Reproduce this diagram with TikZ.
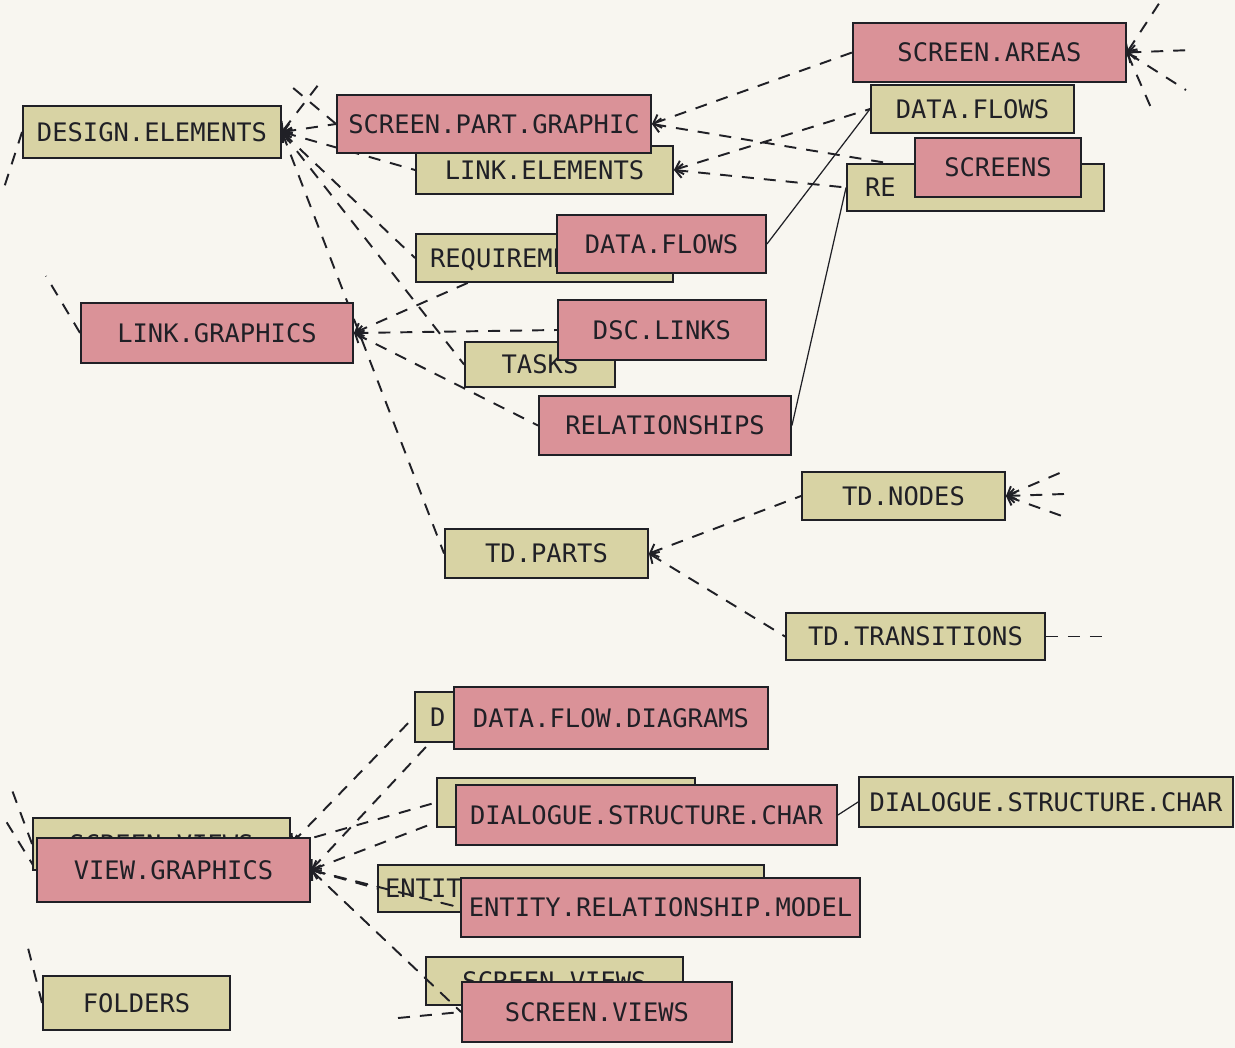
\documentclass[tikz,border=0pt]{standalone}
\usepackage{fontspec}
\usetikzlibrary{arrows.meta}
\newfontfamily\plotfont{DejaVu Sans Mono}
\definecolor{pinkc}{RGB}{218,146,152}
\definecolor{khakic}{RGB}{216,211,164}
\definecolor{inkc}{RGB}{32,32,38}
\definecolor{pagec}{RGB}{248,246,240}
\pgfdeclarelayer{back}
\pgfdeclarelayer{front}
\pgfsetlayers{back,main,front}
\tikzset{
  card/.style={draw=inkc, line width=1.1pt, inner sep=0pt, text=inkc,
    font=\plotfont\fontsize{14.5}{16}\selectfont, text height=10.6pt, text depth=0pt},
  pinkcard/.style={card, fill=pinkc},
  khakicard/.style={card, fill=khakic},
  link/.style={draw=inkc, line width=1.1pt, dash pattern=on 0.24cm off 0.2cm},
  plain link/.style={draw=inkc, line width=0.7pt},
}
\begin{document}
\begin{tikzpicture}[x=0.02cm, y=-0.02cm, line cap=round, >={Straight Barb[length=4pt,width=8pt]}]
\begin{pgfonlayer}{back}
\fill[pagec] (0,0) rectangle (1235,1048);
\end{pgfonlayer}
\useasboundingbox (0,0) rectangle (1235,1048);
% upper left group
\node[khakicard, minimum width=5.16cm, minimum height=1.04cm] (de) at (152,132) {DESIGN.ELEMENTS};
\node[pinkcard, minimum width=5.44cm, minimum height=1.2cm] (lg) at (217,333) {LINK.GRAPHICS};
\node[khakicard, minimum width=5.14cm, minimum height=0.96cm] (le) at (544.5,170) {LINK.ELEMENTS};
\node[pinkcard, minimum width=6.28cm, minimum height=1.16cm] (spg) at (494,124) {SCREEN.PART.GRAPHIC};
\node[khakicard, align=left, text width=4.58cm, inner xsep=0.28cm, minimum height=0.96cm] (req) at (544.5,258) {REQUIREMENTS};
\node[pinkcard, minimum width=4.18cm, minimum height=1.16cm] (dfp) at (661.5,244) {DATA.FLOWS};
\node[khakicard, minimum width=3cm, minimum height=0.9cm] (tk) at (540,364.5) {TASKS};
\node[pinkcard, minimum width=4.16cm, minimum height=1.2cm] (dsc) at (662,330) {DSC.LINKS};
\node[pinkcard, minimum width=5.04cm, minimum height=1.18cm] (rel) at (665,425.5) {RELATIONSHIPS};
% upper right group
\node[pinkcard, minimum width=5.46cm, minimum height=1.18cm] (sa) at (989.5,52.5) {SCREEN.AREAS};
\node[khakicard, minimum width=4.06cm, minimum height=0.96cm] (dfy) at (972.5,109) {DATA.FLOWS};
\node[khakicard, align=left, text width=4.42cm, inner xsep=0.36cm, minimum height=0.94cm] (re) at (975.5,187.5) {RE};
\node[pinkcard, minimum width=3.32cm, minimum height=1.18cm] (scr) at (998,167.5) {SCREENS};
% td group
\node[khakicard, minimum width=4.06cm, minimum height=0.96cm] (tdn) at (903.5,496) {TD.NODES};
\node[khakicard, minimum width=4.06cm, minimum height=0.98cm] (tdp) at (546.5,553.5) {TD.PARTS};
\node[khakicard, minimum width=5.18cm, minimum height=0.94cm] (tdt) at (915.5,636.5) {TD.TRANSITIONS};
% lower group
\node[khakicard, align=left, text width=5.1cm, inner xsep=0.3cm, minimum height=1cm] (dbx) at (557.5,717) {D};
\node[pinkcard, minimum width=6.28cm, minimum height=1.24cm] (dfd) at (611,718) {DATA.FLOW.DIAGRAMS};
\node[khakicard, minimum width=5.16cm, minimum height=0.98cm] (dsb) at (566,802.5) {};
\node[pinkcard, minimum width=7.62cm, minimum height=1.2cm] (dsp) at (646.5,815) {DIALOGUE.STRUCTURE.CHAR};
\node[khakicard, minimum width=7.48cm, minimum height=1cm] (dsy) at (1046,802) {DIALOGUE.STRUCTURE.CHAR};
\node[khakicard, align=left, text width=7.44cm, inner xsep=0.14cm, minimum height=0.94cm] (ent) at (571,888.5) {ENTIT};
\node[khakicard, minimum width=5.14cm, minimum height=0.96cm] (svy) at (554.5,981) {SCREEN.VIEWS};
\node[khakicard, minimum width=5.14cm, minimum height=1.04cm] (svb) at (161.5,844) {SCREEN.VIEWS};
\node[pinkcard, minimum width=5.46cm, minimum height=1.28cm] (vg) at (173.5,870) {VIEW.GRAPHICS};
\node[khakicard, minimum width=3.74cm, minimum height=1.08cm] (fo) at (136.5,1003) {FOLDERS};
\begin{pgfonlayer}{front}
\node[pinkcard, minimum width=7.98cm, minimum height=1.18cm] (erm) at (660.5,907.5) {ENTITY.RELATIONSHIP.MODEL};
\node[pinkcard, minimum width=5.4cm, minimum height=1.2cm] (svp) at (597,1012) {SCREEN.VIEWS};
\end{pgfonlayer}
% loose ends
\coordinate (topa) at (286,82);
\coordinate (topb) at (322,80);
\coordinate (lfta) at (2,194);
\coordinate (lftb) at (46,276);
\coordinate (saa) at (1160,2);
\coordinate (sab) at (1192,50);
\coordinate (sac) at (1186,90);
\coordinate (sad) at (1152,110);
\coordinate (tna) at (1062,472);
\coordinate (tnb) at (1064,494);
\coordinate (tnc) at (1062,516);
\coordinate (tte) at (1108,636.5);
\coordinate (vla) at (12,790);
\coordinate (vlb) at (4,818);
\coordinate (fol) at (26,940);
\coordinate (svl) at (398,1018);
\begin{pgfonlayer}{back}
\foreach \n in {spg,le,req,tk,tdp}
  \draw[link,<-] (de.east) -- (\n.west);
\draw[link,<-] (de.east) -- (topb);
\draw[link] (spg.west) -- (topa);
\draw[link] (de.west) -- (lfta);
\foreach \n in {dfp,dsc,rel}
  \draw[link,<-] (lg.east) -- (\n.west);
\draw[link] (lg.west) -- (lftb);
\foreach \n in {sa,scr}
  \draw[link,<-] (spg.east) -- (\n.west);
\foreach \n in {dfy,re}
  \draw[link,<-] (le.east) -- (\n.west);
\draw[plain link] (dfp.east) -- (dfy.west);
\draw[plain link] (rel.east) -- (re.west);
\foreach \c in {saa,sab,sac,sad}
  \draw[link,<-] (sa.east) -- (\c);
\foreach \n in {tdn,tdt}
  \draw[link,<-] (tdp.east) -- (\n.west);
\foreach \c in {tna,tnb,tnc}
  \draw[link,<-] (tdn.east) -- (\c);
\draw[link] (tdt.east) -- (tte);
\foreach \n in {dfd,dsp,ent}
  \draw[link,<-] (vg.east) -- (\n.west);
\foreach \n in {dbx,dsb}
  \draw[link,<-] (svb.east) -- (\n.west);
\draw[link] (svb.west) -- (vla);
\draw[link] (vg.west) -- (vlb);
\draw[link] (fo.west) -- (fol);
\draw[plain link] (dsp.east) -- (dsy.west);
\draw[link] (svl) -- (svp.west);
\end{pgfonlayer}
\draw[link,<-] (vg.east) -- (erm.west);
\draw[link,<-] (vg.east) -- (svp.west);
\end{tikzpicture}
\end{document}
